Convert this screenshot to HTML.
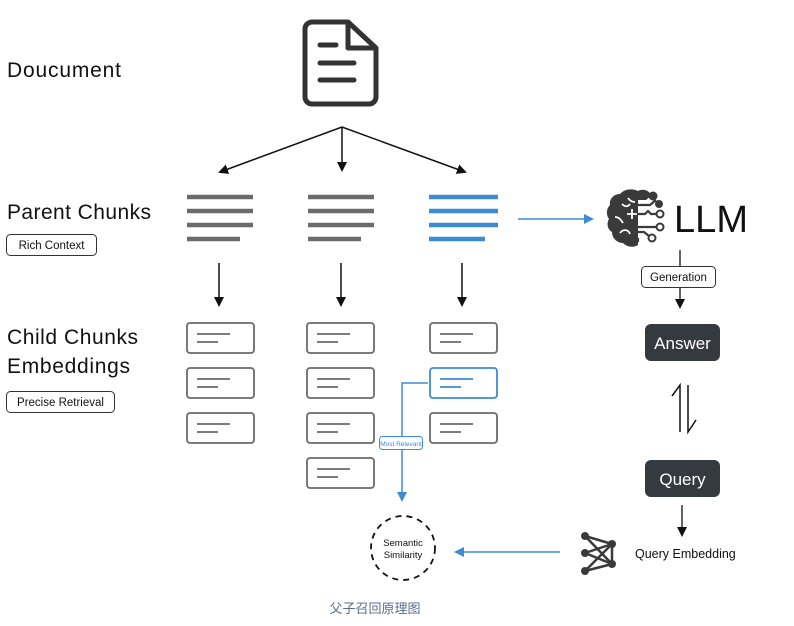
<!DOCTYPE html>
<html><head><meta charset="utf-8"><style>
html,body{margin:0;padding:0;background:#fff;}
svg{display:block;font-family:"Liberation Sans","Noto Sans CJK SC",sans-serif;}
</style></head><body>
<svg width="794" height="626" viewBox="0 0 794 626" xmlns="http://www.w3.org/2000/svg">
<defs>
<marker id="ak" markerWidth="10" markerHeight="10" refX="8" refY="5" orient="auto" markerUnits="userSpaceOnUse"><path d="M0,0 L10,5 L0,10 z" fill="#111"/></marker>
<marker id="ab" markerWidth="10" markerHeight="10" refX="8" refY="5" orient="auto" markerUnits="userSpaceOnUse"><path d="M0,0 L10,5 L0,10 z" fill="#3d8bd4"/></marker>
</defs>
<!-- left labels -->
<text x="7" y="77" font-size="21" fill="#111" textLength="114">Doucument</text>
<text x="7" y="219" font-size="21" fill="#111" textLength="144">Parent Chunks</text>
<rect x="6.5" y="234.5" width="90" height="21" rx="4" fill="#fff" stroke="#333"/>
<text x="51.5" y="249" font-size="11.5" text-anchor="middle" fill="#111">Rich Context</text>
<text x="7" y="344" font-size="21" fill="#111" textLength="131">Child Chunks</text>
<text x="7" y="373" font-size="21" fill="#111" textLength="123">Embeddings</text>
<rect x="6.5" y="391.5" width="108" height="21" rx="4" fill="#fff" stroke="#333"/>
<text x="60.5" y="406" font-size="11.5" text-anchor="middle" fill="#111">Precise Retrieval</text>
<!-- document icon -->
<path d="M312,22 H348 L376,48 V97 a7,7 0 0 1 -7,7 H312 a7,7 0 0 1 -7,-7 V29 a7,7 0 0 1 7,-7 z" fill="none" stroke="#333" stroke-width="5" stroke-linejoin="round"/>
<path d="M348,22 V48 H376" fill="none" stroke="#333" stroke-width="5" stroke-linejoin="round"/>
<g stroke="#333" stroke-width="5" stroke-linecap="round"><line x1="320" y1="45" x2="336" y2="45"/><line x1="320" y1="63" x2="354" y2="63"/><line x1="320" y1="80" x2="354" y2="80"/></g>
<!-- split arrows -->
<g stroke="#111" stroke-width="1.5" fill="none">
<line x1="342" y1="127" x2="220" y2="172" marker-end="url(#ak)"/>
<line x1="342" y1="127" x2="342" y2="170" marker-end="url(#ak)"/>
<line x1="342" y1="127" x2="465" y2="172" marker-end="url(#ak)"/>
</g>
<!-- parent chunks -->
<g stroke="#6b6b6b" stroke-width="4.5">
<line x1="187" y1="197" x2="253" y2="197"/><line x1="187" y1="211" x2="253" y2="211"/><line x1="187" y1="225" x2="253" y2="225"/><line x1="187" y1="239" x2="240" y2="239"/>
<line x1="308" y1="197" x2="374" y2="197"/><line x1="308" y1="211" x2="374" y2="211"/><line x1="308" y1="225" x2="374" y2="225"/><line x1="308" y1="239" x2="361" y2="239"/>
</g>
<g stroke="#3d8bd4" stroke-width="4.5">
<line x1="429" y1="197" x2="498" y2="197"/><line x1="429" y1="211" x2="498" y2="211"/><line x1="429" y1="225" x2="498" y2="225"/><line x1="429" y1="239" x2="485" y2="239"/>
</g>
<line x1="518" y1="219" x2="592" y2="219" stroke="#3d8bd4" stroke-width="1.5" marker-end="url(#ab)"/>
<!-- brain -->
<g fill="#3a3a3a">
<path d="M638,191 c-6,-3 -14,-2 -18,3 c-7,0 -11,6 -10,11 c-4,4 -4,10 -1,14 c-3,5 -1,11 3,13 c0,6 5,11 11,11 c4,4 10,5 15,2 z"/>
<path d="M638,191 c6,-3 12,0 13,5 l-5,4 h-8 z"/>
<circle cx="653" cy="196" r="4.5"/><circle cx="659" cy="204" r="4"/>
<circle cx="660" cy="214" r="3.5" fill="none" stroke="#3a3a3a" stroke-width="2"/><circle cx="660" cy="227" r="3.5" fill="none" stroke="#3a3a3a" stroke-width="2"/><circle cx="652" cy="238" r="3.5" fill="none" stroke="#3a3a3a" stroke-width="2"/>
</g>
<g stroke="#3a3a3a" stroke-width="2.2" fill="none"><path d="M638,205 H650 L656,200"/><path d="M638,214 H645 l3,-3 l3,3 h5"/><path d="M638,227 H656"/><path d="M638,232 H644 L649,236"/><path d="M638,238 V242"/></g>
<g stroke="#fff" stroke-width="1.8" fill="none"><path d="M622,204 c3,3 6,3 8,0"/><path d="M615,217 c4,0 6,3 8,6"/><path d="M627,214 h10 M632,209 v10"/><path d="M620,233 c3,-4 8,-4 10,1"/><path d="M628,198 c2,3 4,4 7,4"/></g>
<text x="674" y="232" font-size="38" fill="#111" textLength="74">LLM</text>
<!-- LLM -> answer -->
<line x1="680" y1="250" x2="680" y2="307" stroke="#111" stroke-width="1.3" marker-end="url(#ak)"/>
<rect x="641.5" y="266.5" width="74" height="21" rx="4" fill="#fff" stroke="#333"/>
<text x="678.5" y="281" font-size="11.5" text-anchor="middle" fill="#111">Generation</text>
<rect x="645" y="324" width="75" height="37" rx="6" fill="#343a40"/>
<text x="682.5" y="349" font-size="17" text-anchor="middle" fill="#fff">Answer</text>
<!-- double arrow -->
<g stroke="#111" stroke-width="1.5" fill="none"><path d="M680,432 V385 L672,396"/><path d="M688,385 V432 L696,420"/></g>
<rect x="645" y="460" width="75" height="37" rx="6" fill="#343a40"/>
<text x="682.5" y="485" font-size="17" text-anchor="middle" fill="#fff">Query</text>
<line x1="682" y1="505" x2="682" y2="535" stroke="#111" stroke-width="1.3" marker-end="url(#ak)"/>
<!-- network icon -->
<g stroke="#3a3a3a" stroke-width="2.5"><line x1="585" y1="536" x2="612" y2="544"/><line x1="585" y1="536" x2="612" y2="564"/><line x1="585" y1="553" x2="612" y2="544"/><line x1="585" y1="553" x2="612" y2="564"/><line x1="585" y1="571" x2="612" y2="544"/><line x1="585" y1="571" x2="612" y2="564"/><line x1="612" y1="544" x2="612" y2="564"/></g>
<g fill="#3a3a3a"><circle cx="585" cy="536" r="4"/><circle cx="585" cy="553" r="4"/><circle cx="585" cy="571" r="4"/><circle cx="612" cy="544" r="4"/><circle cx="612" cy="564" r="4"/></g>
<text x="635" y="558" font-size="12.5" fill="#111">Query Embedding</text>
<line x1="560" y1="552" x2="456" y2="552" stroke="#3d8bd4" stroke-width="1.5" marker-end="url(#ab)"/>
<!-- down arrows -->
<g stroke="#111" stroke-width="1.5"><line x1="219" y1="263" x2="219" y2="305" marker-end="url(#ak)"/><line x1="341" y1="263" x2="341" y2="305" marker-end="url(#ak)"/><line x1="462" y1="263" x2="462" y2="305" marker-end="url(#ak)"/></g>
<!-- child boxes -->
<g fill="#fff" stroke="#6b6b6b" stroke-width="1.8">
<rect x="187" y="323" width="67" height="30" rx="3"/><rect x="187" y="368" width="67" height="30" rx="3"/><rect x="187" y="413" width="67" height="30" rx="3"/>
<rect x="307" y="323" width="67" height="30" rx="3"/><rect x="307" y="368" width="67" height="30" rx="3"/><rect x="307" y="413" width="67" height="30" rx="3"/><rect x="307" y="458" width="67" height="30" rx="3"/>
<rect x="430" y="323" width="67" height="30" rx="3"/><rect x="430" y="413" width="67" height="30" rx="3"/>
</g>
<rect x="430" y="368" width="67" height="30" rx="3" fill="#fff" stroke="#3d8bd4" stroke-width="1.8"/>
<g stroke="#6b6b6b" stroke-width="1.8">
<path d="M197,334 h33 M197,342 h21 M197,379 h33 M197,387 h21 M197,424 h33 M197,432 h21"/>
<path d="M317,334 h33 M317,342 h21 M317,379 h33 M317,387 h21 M317,424 h33 M317,432 h21 M317,469 h33 M317,477 h21"/>
<path d="M440,334 h33 M440,342 h21 M440,424 h33 M440,432 h21"/>
</g>
<path d="M440,379 h33 M440,387 h21" stroke="#3d8bd4" stroke-width="1.8"/>
<!-- blue connector -->
<path d="M428,383 H402 V500" fill="none" stroke="#3d8bd4" stroke-width="1.5" marker-end="url(#ab)"/>
<rect x="379.5" y="436.5" width="43" height="13" rx="3" fill="#fff" stroke="#3d8bd4"/>
<text x="401" y="446" font-size="6.5" text-anchor="middle" fill="#3d8bd4">Most Relevant</text>
<!-- circle -->
<circle cx="403" cy="548" r="32" fill="#fff" stroke="#111" stroke-width="1.8" stroke-dasharray="6,5"/>
<text x="403" y="546" font-size="9.5" text-anchor="middle" fill="#111">Semantic</text>
<text x="403" y="558" font-size="9.5" text-anchor="middle" fill="#111">Similarity</text>
<text x="375" y="613" font-size="13" text-anchor="middle" fill="#5a6a8a">父子召回原理图</text>
</svg>
</body></html>
